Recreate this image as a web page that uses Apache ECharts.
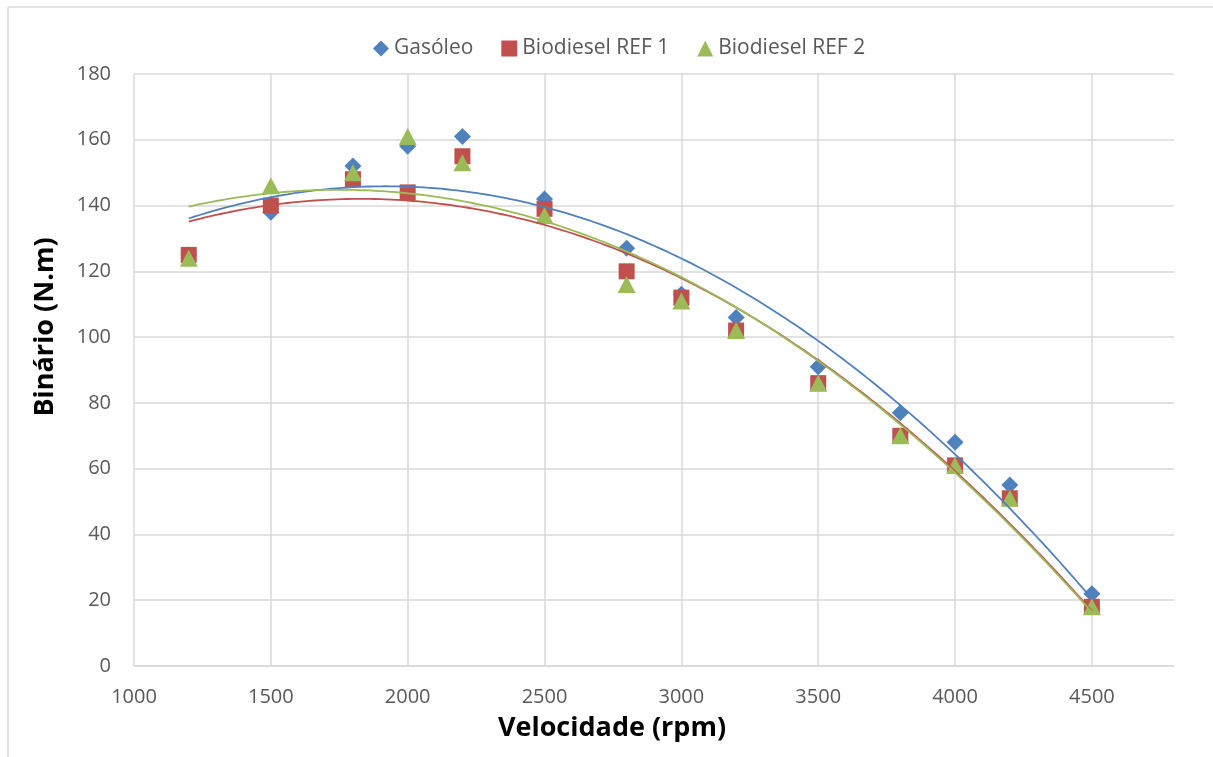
<!DOCTYPE html>
<html>
<head>
<meta charset="utf-8">
<script src="https://cdn.jsdelivr.net/npm/echarts@6/dist/echarts.min.js"></script>
<style>
html,body{margin:0;padding:0;background:#fff;}
#chart{width:1213px;height:757px;}
</style>
</head>
<body>
<div id="chart"></div>
<script>
// ---- data ----
const rpm = [1200, 1500, 1800, 2000, 2200, 2500, 2800, 3000, 3200, 3500, 3800, 4000, 4200, 4500];
const gasoleo = [125, 138, 152, 158, 161, 142, 127, 113, 106, 91, 77, 68, 55, 22];
const ref1 = [125, 140, 148, 144, 155, 139, 120, 112, 102, 86, 70, 61, 51, 18];
const ref2 = [124, 146, 150, 161, 153, 137, 116, 111, 102, 86, 70, 61, 51, 18];
const seriesNames = ['Gasóleo', 'Biodiesel REF 1', 'Biodiesel REF 2'];
const xTitle = 'Velocidade (rpm)';
const yTitle = 'Binário (N.m)';

// ---- 2nd order polynomial trendline (least squares, like Excel) ----
function polyFit2(xs, ys) {
  const s = [0,0,0,0,0], t = [0,0,0];
  for (let i = 0; i < xs.length; i++) {
    const x = xs[i] / 1000, y = ys[i];
    let p = 1;
    for (let k = 0; k < 5; k++) { s[k] += p; if (k < 3) t[k] += p * y; p *= x; }
  }
  const A = [[s[0], s[1], s[2], t[0]], [s[1], s[2], s[3], t[1]], [s[2], s[3], s[4], t[2]]];
  for (let i = 0; i < 3; i++) {
    for (let j = i + 1; j < 3; j++) {
      const f = A[j][i] / A[i][i];
      for (let k = i; k < 4; k++) A[j][k] -= f * A[i][k];
    }
  }
  const c = [0,0,0];
  for (let i = 2; i >= 0; i--) {
    let v = A[i][3];
    for (let k = i + 1; k < 3; k++) v -= A[i][k] * c[k];
    c[i] = v / A[i][i];
  }
  return c;
}
function trend(xs, ys) {
  const c = polyFit2(xs, ys);
  const out = [];
  const x0 = xs[0], x1 = xs[xs.length - 1];
  for (let x = x0; x <= x1 + 1e-9; x += 20) {
    const u = x / 1000;
    out.push([x, c[0] + c[1] * u + c[2] * u * u]);
  }
  return out;
}

const colors = ['#4F81BD', '#C0504D', '#9BBB59'];
const symbols = ['diamond', 'rect', 'triangle'];
const sizes = [[17, 17], [16, 16], [18, 17]];
const allY = [gasoleo, ref1, ref2];

const series = [];
allY.forEach((ys, i) => {
  series.push({
    name: seriesNames[i],
    type: 'scatter',
    data: rpm.map((x, j) => [x, ys[j]]),
    symbol: symbols[i],
    symbolSize: sizes[i],
    itemStyle: { color: colors[i], opacity: 1 },
    z: 2 + i,
    emphasis: { disabled: true }
  });
});
allY.forEach((ys, i) => {
  series.push({
    name: 'trend' + i,
    type: 'line',
    data: trend(rpm, ys),
    showSymbol: false,
    symbol: 'none',
    lineStyle: { color: colors[i], width: 1.8 },
    z: 6,
    silent: true
  });
});

const chart = echarts.init(document.getElementById('chart'), null, { renderer: 'canvas' });
const FONT = '"Open Sans", Lato, sans-serif';
chart.setOption({
  animation: false,
  backgroundColor: '#fff',
  legend: {
    data: seriesNames.map((n, i) => ({ name: n, icon: symbols[i] })),
    top: 33,
    left: 368,
    itemWidth: 16,
    itemHeight: 16,
    itemGap: 28,
    textStyle: { fontFamily: FONT, fontSize: 21, color: '#595959' }
  },
  grid: { left: 134, top: 74, width: 1040, height: 592, containLabel: false },
  xAxis: {
    type: 'value',
    min: 1000,
    max: 4800,
    interval: 500,
    axisLine: { show: true, lineStyle: { color: '#D9D9D9', width: 1.5 } },
    axisTick: { show: false },
    axisLabel: {
      fontFamily: FONT, fontSize: 20, color: '#595959', margin: 21,
      showMaxLabel: false,
      formatter: v => (v % 500 === 0 ? String(v) : '')
    },
    splitLine: { show: true, showMaxLine: false, lineStyle: { color: '#D9D9D9', width: 1.5 } }
  },
  yAxis: {
    type: 'value',
    min: 0,
    max: 180,
    interval: 20,
    axisLine: { show: false },
    axisTick: { show: false },
    axisLabel: { fontFamily: FONT, fontSize: 20, color: '#595959', margin: 23 },
    splitLine: { show: true, lineStyle: { color: '#D9D9D9', width: 1.5 } }
  },
  graphic: [
    { type: 'line', shape: { x1: 8, y1: 7, x2: 1213, y2: 7 }, style: { stroke: '#D9D9D9', lineWidth: 1.5 } },
    { type: 'line', shape: { x1: 8, y1: 7, x2: 8, y2: 757 }, style: { stroke: '#D9D9D9', lineWidth: 1.5 } },
    { type: 'text', position: [612, 728],
      style: { text: xTitle, font: 'bold 27px ' + FONT, fill: '#000', textAlign: 'center', textVerticalAlign: 'middle' } },
    { type: 'text', rotation: Math.PI / 2, position: [45, 327],
      style: { text: yTitle, font: 'bold 27px ' + FONT, fill: '#000', textAlign: 'center', textVerticalAlign: 'middle' } }
  ],
  series: series
});
</script>
</body>
</html>
